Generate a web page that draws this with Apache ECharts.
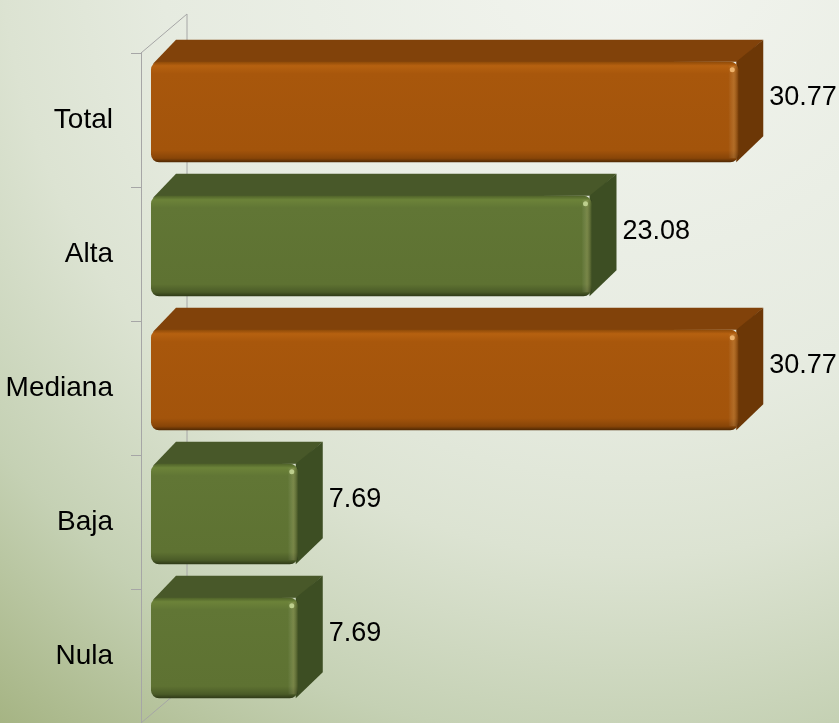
<!DOCTYPE html>
<html>
<head>
<meta charset="utf-8">
<title>Chart</title>
<script src="https://cdn.jsdelivr.net/npm/echarts@6/dist/echarts.min.js"></script>
<style>
  html, body { margin: 0; padding: 0; }
  #chart { width: 839px; height: 723px; }
</style>
</head>
<body>
<div id="chart"></div>
<script>
// data
const categories = ['Total', 'Alta', 'Mediana', 'Baja', 'Nula'];
const values = [30.77, 23.08, 30.77, 7.69, 7.69];
const highlighted = ['Total', 'Mediana'];

const FONT = '"Liberation Sans Narrow", "Liberation Sans", sans-serif';

const palettes = {
  orange: {
    top: '#81420A', side: '#6C3706', dot: '#F7C07A',
    front: ['#8E4A08', '#B66110', '#A8570C', '#A3540B', '#884508', '#4E2803']
  },
  green: {
    top: '#485829', side: '#3D4E23', dot: '#C9DB9A',
    front: ['#4F6229', '#6C8339', '#617635', '#5E7232', '#4A5B27', '#2E3917']
  }
};

// depth of the fake 3D boxes
const DX = 25, DY = 22;

document.addEventListener('DOMContentLoaded', function() {
  const myChart = echarts.init(document.getElementById('chart'));

  function renderBar(params, api) {
    const v = api.value(0);
    const i = api.value(1);
    const base = api.coord([0, i]);
    const end = api.coord([v, i]);
    const band = api.size([0, 1])[1];
    const h = band * 0.75;
    const x0 = base[0] + 10;
    const x1 = end[0] + 10;
    const yc = base[1] - 8;
    const y0 = yc - h / 2;
    const y1 = yc + h / 2;
    const pal = palettes[highlighted.indexOf(categories[i]) >= 0 ? 'orange' : 'green'];
    const f = pal.front;
    return {
      type: 'group',
      children: [
        {
          type: 'polygon',
          shape: { points: [[x0 + 2, y0 + 2], [x0 + DX, y0 - DY], [x1 + DX, y0 - DY], [x1, y0]] },
          style: { fill: pal.top }
        },
        {
          type: 'polygon',
          shape: { points: [[x1 - 2, y0], [x1 + DX, y0 - DY], [x1 + DX, y1 - DY - 4], [x1 - 2, y1]] },
          style: { fill: pal.side }
        },
        {
          type: 'rect',
          shape: { x: x0, y: y0, width: x1 - x0, height: h, r: 8 },
          style: {
            fill: new echarts.graphic.LinearGradient(0, 0, 0, 1, [
              { offset: 0, color: f[0] },
              { offset: 0.04, color: f[1] },
              { offset: 0.12, color: f[2] },
              { offset: 0.88, color: f[3] },
              { offset: 0.96, color: f[4] },
              { offset: 1, color: f[5] }
            ])
          }
        },
        {
          type: 'rect',
          shape: { x: x1 - 10, y: y0 + 4, width: 10, height: h - 8 },
          style: {
            fill: new echarts.graphic.LinearGradient(0, 0, 1, 0, [
              { offset: 0, color: 'rgba(255,255,255,0)' },
              { offset: 0.55, color: 'rgba(255,235,180,0.16)' },
              { offset: 1, color: 'rgba(0,0,0,0.25)' }
            ])
          }
        },
        {
          type: 'circle',
          shape: { cx: x1 - 6, cy: y0 + 8, r: 2.5 },
          style: { fill: pal.dot, opacity: 0.85 }
        },
        {
          type: 'text',
          style: {
            text: String(v),
            x: x1 + DX + 6,
            y: yc - 14,
            verticalAlign: 'middle',
            fill: '#000',
            fontSize: 27,
            fontFamily: FONT
          }
        }
      ]
    };
  }

  // back wall outline behind the bars
  function renderWall(params, api) {
    const cs = params.coordSys;
    const bx = 46, by = 39;
    return {
      type: 'group',
      children: [
        {
          type: 'polyline',
          shape: { points: [[cs.x, cs.y], [cs.x + bx, cs.y - by], [cs.x + bx, cs.y + cs.height - by]] },
          style: { stroke: '#A6A6A6', lineWidth: 1, fill: null }
        },
        {
          type: 'line',
          shape: { x1: cs.x, y1: cs.y + cs.height, x2: cs.x + bx, y2: cs.y + cs.height - by },
          style: { stroke: '#A6A6A6', lineWidth: 1 }
        }
      ]
    };
  }

  const option = {
    animation: false,
    backgroundColor: {
      type: 'radial',
      x: 0.75, y: -0.1, r: 1.45,
      colorStops: [
        { offset: 0, color: '#F3F5F0' },
        { offset: 0.45, color: '#E6EBE0' },
        { offset: 0.6, color: '#DCE3D2' },
        { offset: 0.78, color: '#C5D1B4' },
        { offset: 1, color: '#A0AF7B' }
      ]
    },
    grid: {
      left: 141,
      top: 53,
      width: 668,
      height: 672
    },
    xAxis: {
      type: 'value',
      min: 0,
      max: 35,
      show: false
    },
    yAxis: {
      type: 'category',
      data: categories,
      inverse: true,
      axisLine: { show: true, lineStyle: { color: '#A6A6A6', width: 1 } },
      axisTick: { show: true, length: 10, lineStyle: { color: '#A6A6A6' } },
      axisLabel: { margin: 28, color: '#000', fontSize: 28, fontFamily: FONT },
      splitLine: { show: false }
    },
    series: [
      {
        type: 'custom',
        silent: true,
        z: 1,
        renderItem: renderWall,
        data: [[0, 0]]
      },
      {
        type: 'custom',
        z: 2,
        renderItem: renderBar,
        encode: { x: 0, y: 1 },
        data: values.map(function(v, i) { return [v, i]; })
      }
    ]
  };
  myChart.setOption(option);
});
</script>
</body>
</html>
